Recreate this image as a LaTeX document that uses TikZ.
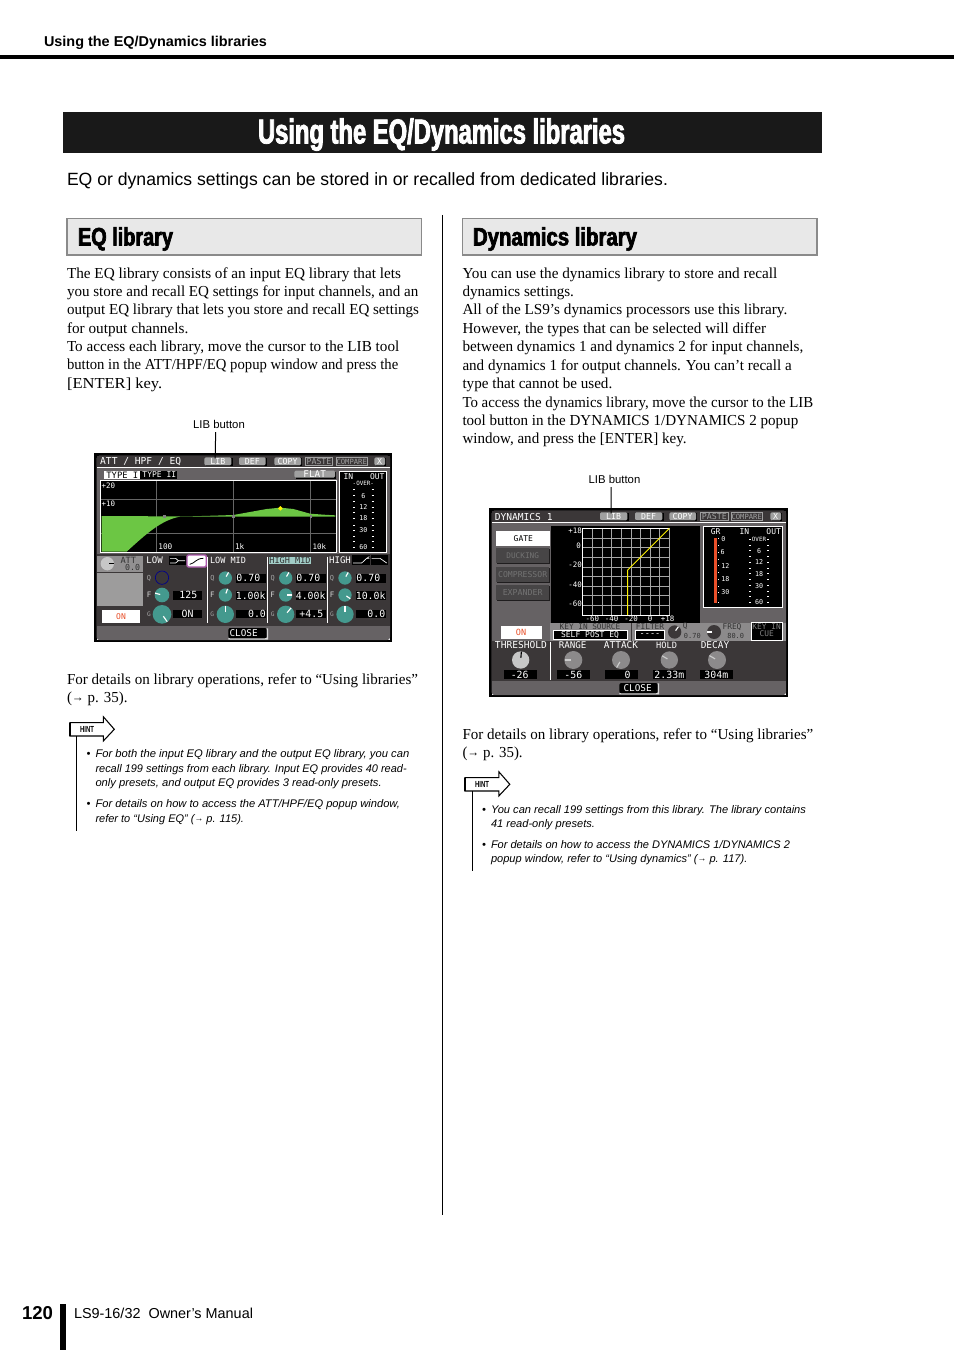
\documentclass[tikz,border=0pt]{standalone}
\usepackage{fontspec}
\usepackage{graphicx}
\setmainfont{Liberation Serif}
\newfontfamily\arial{Liberation Sans}
\newfontfamily\mono{DejaVu Sans Mono}
\newfontfamily\headf[FakeStretch=0.62,FakeBold=2.2]{Liberation Sans}
\newfontfamily\hintf[FakeStretch=0.62]{Liberation Sans}
\definecolor{scrdark}{HTML}{3B3738}
\definecolor{scrmid}{HTML}{666264}
\definecolor{scrgrey}{HTML}{8C8A8B}
\definecolor{scrbtn}{HTML}{A0A0A0}
\definecolor{teal}{HTML}{44998E}
\definecolor{eqgreen}{HTML}{6CC644}
\definecolor{scrred}{HTML}{E8502A}
\definecolor{boxgrey}{HTML}{E8E8E8}
\definecolor{boxline}{HTML}{8A8A8A}
\newcounter{tn}
\tikzset{
  txt/.style={anchor=base west,inner sep=0pt,outer sep=0pt,text=black},
  lcd/.style={anchor=center,inner sep=0pt,outer sep=0pt,text=white},
  leader/.style={draw=black,line width=.75pt},
  hintline/.style={draw=black,line width=.75pt},
  grid line/.style={draw=#1,line width=.5pt},
}
% fitted text line: x start, baseline y, x end, font, text, colour
\newcommand{\fitl}[6][black]{\stepcounter{tn}\pgfmathsetlengthmacro{\fitw}{(#4-#2)*.75pt}%
  \node[txt,text=#1] (t\arabic{tn}) at (#2,#3) {\resizebox{\fitw}{\height}{#5#6}};}
\newcommand{\bodyl}[4]{\fitl{#1}{#2}{#3}{\fontsize{11.45}{13}\selectfont}{#4}}
\newcommand{\hintl}[4]{\fitl{#1}{#2}{#3}{\arial\itshape\fontsize{8.3}{10}\selectfont}{#4}}
\newcommand{\hbul}[2]{\stepcounter{tn}\node[txt,font=\arial\itshape\fontsize{8.3}{10}\selectfont] (t\arabic{tn}) at (#1,#2) {•};}
\newcommand{\smallarrow}{\raisebox{.5pt}{\scalebox{.8}{→}}}
% lcd text: x y size colour text
\newcommand{\lc}[5]{\stepcounter{tn}\node[lcd,text=#4,font=\mono\fontsize{#3}{#3}\selectfont] (t\arabic{tn}) at (#1,#2) {#5};}
% screen button: name x1 y1 x2 y2 text
\newcommand{\btn}[6]{\fill[black] (#2+4,#3+3) rectangle (#4+4,#5+3);
  \fill[scrbtn,rounded corners=1pt] (#2,#3) rectangle (#4,#5);
  \node[lcd,font=\mono\fontsize{6.2}{7}\selectfont] (#1) at ({(#2+#4)/2},{(#3+#5)/2}) {#6};}
% black value box: x1 y1 x2 y2 text-centre text
\newcommand{\val}[6]{\fill[black] (#1,#2) rectangle (#3,#4);
  \lc{#5}{{(#2+#4)/2}}{7.4}{white}{#6}}
% knob: x y r angle fill pointer
\newcommand{\knob}[6]{\fill[#5] (#1,#2) circle[radius=#3];
  \draw[#6,line width=.85pt] (#1,#2) ++({-(#4)}:{#3*.25}) -- ++({-(#4)}:{#3*.72});}
\newcommand{\windowframe}[4]{% x1 y1 x2 y2
  \fill[black] (#1,#2) rectangle (#3,#4);
  \fill[white] (#1+7,#2+7) rectangle (#3-5,#4-5);
  \fill[scrmid,rounded corners=2pt] (#1+7,#2+7) rectangle (#3-5,#4-5);}
\begin{document}
\begin{tikzpicture}[x=.75pt,y=-.75pt]
\useasboundingbox (0,0) rectangle (954,1351);
\fill[white] (0,0) rectangle (954,1351);
% header
\fitl{44}{46.5}{267}{\arial\bfseries\fontsize{10.7}{12}\selectfont}{Using the EQ/Dynamics libraries}
\fill[black] (0,55) rectangle (954,59);
% title
\fill[black!90] (63,112) rectangle (822,153);
\fitl[white]{258}{143.5}{625}{\headf\bfseries\fontsize{26}{28}\selectfont}{Using the EQ/Dynamics libraries}
\fitl{67}{185.5}{668}{\arial\fontsize{13.3}{15}\selectfont}{EQ or dynamics settings can be stored in or recalled from dedicated libraries.}
% divider
\draw[leader] (442.5,215) -- (442.5,1215);
% section boxes
\draw[draw=boxline,fill=boxgrey,line width=1pt] (67,218.5) rectangle (421.5,255);
\draw[draw=boxline,fill=boxgrey,line width=1pt] (462.5,218.5) rectangle (817,255);
\fitl{78}{245.5}{173}{\headf\bfseries\fontsize{19}{21}\selectfont}{EQ library}
\fitl{473}{245.5}{637}{\headf\bfseries\fontsize{19}{21}\selectfont}{Dynamics library}
% left body
\bodyl{67}{278.5}{401}{The EQ library consists of an input EQ library that lets}
\bodyl{67}{296.5}{418.3}{you store and recall EQ settings for input channels, and an}
\bodyl{67}{315}{419}{output EQ library that lets you store and recall EQ settings}
\bodyl{67}{333.5}{188.3}{for output channels.}
\bodyl{67}{351.5}{399.3}{To access each library, move the cursor to the LIB tool}
\bodyl{67}{370}{398.3}{button in the ATT/HPF/EQ popup window and press the}
\bodyl{67}{388.5}{162.3}{[ENTER] key.}
\bodyl{67}{684}{418}{For details on library operations, refer to “Using libraries”}
\bodyl{67}{702}{127.5}{(\smallarrow\ p. 35).}
% right body
\bodyl{462.5}{278.5}{777.3}{You can use the dynamics library to store and recall}
\bodyl{462.5}{296.5}{574}{dynamics settings.}
\bodyl{462.5}{315}{787.3}{All of the LS9’s dynamics processors use this library.}
\bodyl{462.5}{333.5}{766}{However, the types that can be selected will differ}
\bodyl{462.5}{351.5}{803.3}{between dynamics 1 and dynamics 2 for input channels,}
\bodyl{462.5}{370}{791.7}{and dynamics 1 for output channels. You can’t recall a}
\bodyl{462.5}{388.5}{612.3}{type that cannot be used.}
\bodyl{462.5}{407}{813.3}{To access the dynamics library, move the cursor to the LIB}
\bodyl{462.5}{425.5}{798.3}{tool button in the DYNAMICS 1/DYNAMICS 2 popup}
\bodyl{462.5}{443.5}{686.7}{window, and press the [ENTER] key.}
\bodyl{462.5}{739}{813.3}{For details on library operations, refer to “Using libraries”}
\bodyl{462.5}{757}{522.7}{(\smallarrow\ p. 35).}
% LIB labels
\node[lcd,text=black,font=\arial\fontsize{8.5}{10}\selectfont] (liblabelA) at (219,424) {LIB button};
\node[lcd,text=black,font=\arial\fontsize{8.5}{10}\selectfont] (liblabelB) at (614.5,479) {LIB button};

% ---------- EQ screen: zoom coordinates
\begin{scope}[shift={(90,410)},x=.25pt,y=-.25pt]
\windowframe{13}{130}{905}{695}
\fill[scrdark] (21,138) rectangle (899,171);
\fill[white] (20,171) rectangle (900,174);
\lc{152}{156}{7.2}{white}{ATT / HPF / EQ}
\btn{btnLibA}{343}{142}{424}{166}{LIB}
\btn{btnDefA}{447}{142}{527}{166}{DEF}
\btn{btnCopyA}{553}{142}{633}{166}{COPY}
\draw[scrbtn,line width=.5pt] (647,143) rectangle (727,166);
\lc{687}{155}{6.2}{scrbtn}{PASTE}
\draw[scrbtn,line width=.5pt] (738,143) rectangle (832,166);
\lc{785}{155}{5.4}{scrbtn}{COMPARE}
\btn{btnXA}{853}{142}{885}{166}{X}
% type buttons
\fill[white] (42,182) rectangle (150,208);
\lc{97}{195}{6.6}{black}{TYPE I}
\fill[black] (150,182) rectangle (260,208);
\lc{208}{194}{6}{white}{TYPE II}
\btn{btnFlat}{613}{182}{735}{203}{\fontsize{7}{8}\selectfont FLAT}
% EQ graph
\draw[draw=white,fill=black,line width=.6pt] (32,212) rectangle (740,428);
\foreach \gx in {200,430,662} \draw[grid line=black!60] (\gx,214) -- (\gx,426);
\foreach \gy in {268,370} \draw[grid line=black!60] (34,\gy) -- (738,\gy);
\fill[eqgreen] (35,318) -- (222,319) -- (300,319) -- (370,317) -- (430,315) -- (480,306) -- (530,297) -- (571,293) -- (610,297) -- (660,311) -- (700,314) -- (736,316)
  -- (736,320) -- (270,320) .. controls (215,330) and (170,370) .. (110,425) -- (35,425) -- cycle;
\lc{55}{228}{5.6}{white}{+20}
\lc{55}{282}{5.6}{white}{+10}
\lc{226}{411}{5.8}{white}{100}
\lc{449}{411}{5.8}{white}{1k}
\lc{688}{411}{5.6}{white}{10k}
\fill[black!50] (218,315) rectangle (227,324);
\fill[black!50] (426,314) rectangle (435,323);
\fill[black!50] (659,315) rectangle (666,323);
\fill[yellow] (571,288) -- (578,295) -- (571,302) -- (564,295) -- cycle;
% meter
\draw[draw=white,fill=black,line width=.6pt] (749,185) rectangle (890,428);
\lc{775}{200}{6}{white}{IN}
\lc{862}{200}{6}{white}{OUT}
\lc{820}{220}{4.4}{white}{-OVER-}
\lc{820}{257}{5}{white}{6}
\lc{820}{291}{5}{white}{12}
\lc{820}{325}{5}{white}{18}
\lc{820}{361}{5}{white}{30}
\lc{820}{411}{5}{white}{60}
\foreach \my in {238,257,273,291,307,325,345,361,378,395,411} {
  \draw[white,line width=.5pt] (789,\my) -- (795,\my);
  \draw[white,line width=.5pt] (845,\my) -- (851,\my);}
% lower panel
\fill[scrdark] (21,433) rectangle (899,648);
\fill[scrgrey!95!white] (22,437) rectangle (160,487);
\fill[scrgrey!85!white] (22,490) rectangle (160,587);
\knob{52}{461}{20}{0}{black!22}{black}
\lc{115}{451}{6.5}{black!80}{ATT}
\lc{128}{471}{6.2}{black!80}{0.0}
\fill[white] (37,600) rectangle (150,638);
\lc{93}{619}{6}{scrred}{ON}
\lc{194}{452}{6.8}{white}{LOW}
\fill[black] (238,438) rectangle (287,465);
\draw[white,line width=.5pt] (240,445) -- (257,445) -- (265,452) -- (285,452);
\draw[white,line width=.5pt] (240,459) -- (257,459) -- (265,452);
\draw[draw=violet!65!white,fill=white,line width=1.1pt,rounded corners=1pt] (291,435) rectangle (349,471);
\draw[black,line width=.6pt] (299,463) .. controls (315,460) and (318,445) .. (340,445);
\draw[draw=blue!55!black,line width=.5pt] (216,503) circle[radius=20];
\lc{177}{504}{5.2}{black!35}{Q}
\lc{177}{555}{5.6}{black!15}{F}
\lc{177}{613}{4.6}{black!35}{G}
\knob{216}{555}{22}{165}{teal}{white}
\knob{216}{613}{28}{-55}{teal}{white}
\val{250}{543}{337}{569}{295}{125}
\val{250}{600}{337}{625}{293}{ON}
% separators
\foreach \sx in {351,531,711} \draw[white,line width=.6pt] (\sx,440) -- (\sx,640);
\lc{414}{452}{6.4}{white}{LOW MID}
\fill[teal!50!white] (537,441) rectangle (662,463);
\lc{600}{452}{6.4}{black!80}{HIGH MID}
\lc{750}{452}{6.8}{white}{HIGH}
\fill[black] (787,436) rectangle (840,465);
\fill[black] (843,436) rectangle (895,465);
\draw[white,line width=.5pt] (789,459) -- (815,459) -- (830,445) -- (838,445);
\draw[white,line width=.5pt] (845,445) -- (870,445) -- (890,459);
\draw[white,line width=.5pt] (830,445) -- (838,440);
% band columns
\foreach \bx/\ka/\kb/\kc in {406/60/70/90,587/60/0/50,765/60/-35/90} {
  \pgfmathsetmacro{\lx}{\bx-39}
  \lc{\lx}{504}{5.2}{black!35}{Q}
  \lc{\lx}{555}{5.6}{black!15}{F}
  \lc{\lx}{613}{4.6}{black!35}{G}
  \knob{\bx}{504}{20}{\ka}{teal}{white}
  \knob{\bx}{555}{20}{\kb}{teal}{white}
  \knob{\bx}{613}{26}{\kc}{teal}{white}
}
\val{438}{492}{528}{518}{475}{0.70}
\val{438}{543}{528}{569}{482}{1.00k}
\val{438}{600}{528}{625}{501}{0.0}
\val{618}{492}{708}{518}{655}{0.70}
\val{618}{543}{708}{569}{662}{4.00k}
\val{618}{600}{708}{625}{664}{+4.5}
\val{798}{492}{888}{518}{835}{0.70}
\val{798}{543}{888}{569}{842}{10.0k}
\val{798}{600}{888}{625}{859}{0.0}
% close
\fill[white!85!black] (415,689) -- (534,689) -- (534,655) -- (530,655) -- (530,684) -- (415,684) -- cycle;
\fill[black,rounded corners=1.5pt] (415,654) rectangle (530,685);
\lc{461}{669}{7}{white}{CLOSE}
\end{scope}

% ---------- Dynamics screen
\begin{scope}[shift={(485,470)},x=.25pt,y=-.25pt]
\windowframe{13}{115}{908}{680}
\fill[scrdark] (21,123) rectangle (902,156);
\fill[white] (20,156) rectangle (903,159);
\lc{116}{141}{7.2}{white}{DYNAMICS 1}
\btn{btnLibB}{345}{127}{427}{151}{LIB}
\btn{btnDefB}{450}{127}{532}{151}{DEF}
\btn{btnCopyB}{553}{127}{633}{151}{COPY}
\draw[scrbtn,line width=.5pt] (647,128) rectangle (730,151);
\lc{688}{140}{6.2}{scrbtn}{PASTE}
\draw[scrbtn,line width=.5pt] (738,128) rectangle (832,151);
\lc{785}{140}{5.4}{scrbtn}{COMPARE}
\btn{btnXB}{856}{127}{888}{151}{X}
% type list
\fill[white] (33,183) rectangle (195,228);
\lc{115}{205}{6}{black}{GATE}
\foreach \ty/\tnm/\fs in {235/DUCKING/5.8,290/COMPRESSOR/6.1,345/EXPANDER/6.2} {
  \fill[black!70!scrmid] (35,\ty+3) rectangle (195,\ty+48);
  \fill[black!30!scrmid] (33,\ty) rectangle (193,\ty+45);
  \lc{113}{\ty+23}{\fs}{black!55}{\tnm}
}
% graph
\fill[black] (197,168) rectangle (645,458);
\foreach \gi in {1,...,8} {
  \draw[grid line=black!35] ({293+\gi*28.9},175) -- ({293+\gi*28.9},435);
  \draw[grid line=black!35] (293,{175+\gi*28.9}) -- (553,{175+\gi*28.9});
}
\draw[white,line width=.6pt] (553,175) -- (293,175) -- (293,435) -- (553,435) -- (553,430);
\draw[black!35,line width=.5pt] (553,175) -- (553,435);
\draw[yellow,line width=.65pt] (428,435) -- (428,300) -- (553,175);
\lc{270}{182}{5.6}{white}{+18}
\lc{281}{227}{5.6}{white}{0}
\lc{270}{284}{5.6}{white}{-20}
\lc{270}{343}{5.6}{white}{-40}
\lc{270}{401}{5.6}{white}{-60}
\lc{322}{446}{5.6}{white}{-60}
\lc{380}{446}{5.6}{white}{-40}
\lc{438}{446}{5.6}{white}{-20}
\lc{495}{446}{5.6}{white}{0}
\lc{548}{446}{5.6}{white}{+18}
% meter
\draw[draw=white,fill=black,line width=.6pt] (655,168) rectangle (893,413);
\lc{692}{186}{6}{white}{GR}
\lc{778}{186}{6}{white}{IN}
\lc{866}{186}{6}{white}{OUT}
\fill[scrred] (687,205) rectangle (696,398);
\lc{715}{206}{5}{white}{0}
\lc{713}{246}{5}{white}{6}
\lc{721}{287}{5}{white}{12}
\lc{721}{328}{5}{white}{18}
\lc{721}{367}{5}{white}{30}
\foreach \my in {205,226,246,268,287,308,328,348,367,398} \fill[white] (699,\my-1) rectangle (702,\my+1);
\lc{822}{207}{4.4}{white}{-OVER-}
\lc{822}{242}{5}{white}{6}
\lc{822}{276}{5}{white}{12}
\lc{822}{311}{5}{white}{18}
\lc{822}{347}{5}{white}{30}
\lc{822}{397}{5}{white}{60}
\foreach \my in {207,225,242,259,276,294,311,329,347,365,380,397} {
  \draw[white,line width=.5pt] (792,\my) -- (798,\my);
  \draw[white,line width=.5pt] (846,\my) -- (852,\my);}
% control strip
\fill[scrdark] (21,458) rectangle (902,632);
\fill[scrmid] (21,458) rectangle (195,513);
\fill[white] (48,467) rectangle (170,506);
\lc{108}{486}{6.4}{scrred}{ON}
\fill[scrgrey] (195,458) rectangle (438,513);
\lc{315}{469}{5.8}{black!80}{KEY IN SOURCE}
\draw[draw=white,fill=black,line width=.5pt] (205,482) rectangle (428,508);
\lc{315}{495}{6}{white}{SELF POST EQ}
\fill[scrgrey] (441,458) rectangle (790,513);
\lc{495}{469}{5.9}{black!80}{FILTER}
\draw[draw=white,fill=black,line width=.5pt] (451,482) rectangle (538,508);
\lc{495}{495}{6.4}{white}{----}
\knob{569}{486}{20}{55}{scrdark}{white}
\lc{601}{469}{5.9}{black!80}{Q}
\lc{622}{497}{5.2}{black!80}{0.70}
\knob{687}{486}{21}{180}{scrdark}{white}
\lc{741}{470}{5.9}{black!80}{FREQ}
\lc{752}{497}{5.2}{black!80}{80.0}
\fill[scrgrey] (790,458) rectangle (902,513);
\draw[draw=white,fill=black,line width=.5pt] (798,458) rectangle (893,510);
\lc{845}{471}{5.9}{black!50}{KEY IN}
\lc{845}{491}{5.9}{black!50}{CUE}
% knobs
\draw[white,line width=.6pt] (195,515) -- (195,630);
\lc{108}{526}{7.2}{white}{THRESHOLD}
\lc{263}{526}{6.9}{white}{RANGE}
\lc{408}{526}{7.1}{white}{ATTACK}
\lc{545}{526}{6.5}{white}{HOLD}
\lc{690}{526}{7.1}{white}{DECAY}
\knob{107}{570}{26}{85}{black!22}{black}
\knob{265}{570}{27}{180}{scrgrey}{black!20}
\knob{408}{570}{27}{-120}{scrgrey}{black!20}
\knob{553}{570}{26}{150}{scrgrey}{black!20}
\knob{696}{570}{27}{150}{scrgrey}{black!20}
\val{57}{600}{156}{627}{104}{-26}
\val{216}{600}{315}{627}{265}{-56}
\val{360}{600}{459}{627}{428}{0}
\val{505}{600}{603}{627}{553}{2.33m}
\val{645}{600}{743}{627}{694}{304m}
% close
\fill[white!85!black] (403,673) -- (522,673) -- (522,640) -- (518,640) -- (518,669) -- (403,669) -- cycle;
\fill[black,rounded corners=1.5pt] (403,639) rectangle (518,670);
\lc{458}{654}{7}{white}{CLOSE}
\end{scope}

% leaders
\draw[leader] ([xshift=-2.5pt,yshift=-3pt]liblabelA.south) -- ([xshift=-2pt]btnLibA.north);
\draw[leader] ([xshift=-2.5pt,yshift=-3pt]liblabelB.south) -- ([xshift=-2pt]btnLibB.north);

% hint left
\draw[draw=black,fill=white,line width=.8pt] (70,722.7) -- (103.3,722.7) -- (103.3,716.7) -- (114.3,729.3) -- (103.3,741) -- (103.3,736) -- (70,736) -- cycle;
\draw[black,line width=1.2pt] (70,722.7) -- (70,736);
\fitl{80}{732.5}{94}{\hintf\bfseries\fontsize{6.6}{7}\selectfont}{HINT}
\draw[hintline] (76.5,736) -- (76.5,831);
\hbul{86.5}{757}
\hintl{95.5}{757}{409.3}{For both the input EQ library and the output EQ library, you can}
\hintl{95.5}{772}{406.7}{recall 199 settings from each library. Input EQ provides 40 read-}
\hintl{95.5}{786}{381.7}{only presets, and output EQ provides 3 read-only presets.}
\hbul{86.5}{807}
\hintl{95.5}{807}{400}{For details on how to access the ATT/HPF/EQ popup window,}
\hintl{95.5}{822}{244}{refer to “Using EQ” (\smallarrow\ p. 115).}
% hint right
\draw[draw=black,fill=white,line width=.8pt] (465,777.7) -- (498.8,777.7) -- (498.8,771.7) -- (509.8,784.3) -- (498.8,796) -- (498.8,791) -- (465,791) -- cycle;
\draw[black,line width=1.2pt] (465,777.7) -- (465,791);
\fitl{475}{787.5}{489}{\hintf\bfseries\fontsize{6.6}{7}\selectfont}{HINT}
\draw[hintline] (472,791) -- (472,871);
\hbul{482}{813}
\hintl{491}{813}{806}{You can recall 199 settings from this library. The library contains}
\hintl{491}{827.5}{595}{41 read-only presets.}
\hbul{482}{848}
\hintl{491}{848}{790}{For details on how to access the DYNAMICS 1/DYNAMICS 2}
\hintl{491}{862}{747.3}{popup window, refer to “Using dynamics” (\smallarrow\ p. 117).}
% footer
\fitl{22}{1319}{53}{\arial\bfseries\fontsize{14}{15}\selectfont}{120}
\fill[black] (60,1304) rectangle (66,1350);
\fitl{74}{1318}{253}{\arial\fontsize{10.8}{12}\selectfont}{LS9-16/32\ \ Owner’s Manual}
\end{tikzpicture}
\end{document}
